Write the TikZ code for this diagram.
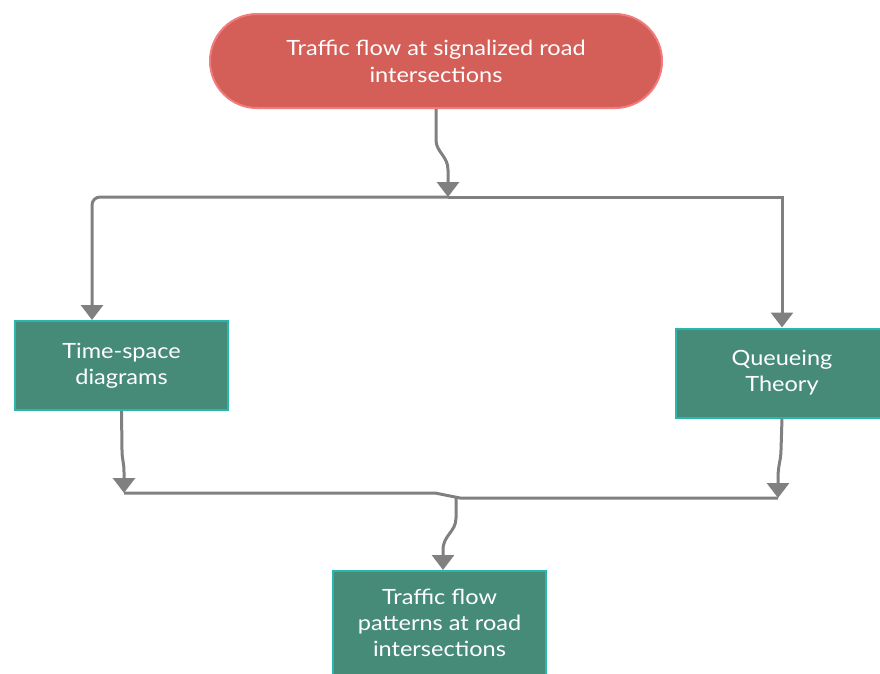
\documentclass[tikz,border=0pt]{standalone}
\usepackage{fontspec}
\setmainfont{Lato}[FakeStretch=1.12]
\usetikzlibrary{arrows.meta,calc}
\definecolor{redfill}{HTML}{D35F58}
\definecolor{redline}{HTML}{F27B7B}
\definecolor{greenfill}{HTML}{468B78}
\definecolor{greenline}{HTML}{2AB5AE}
\definecolor{conngray}{HTML}{808080}
\tikzset{
  startbox/.style={draw=redline, fill=redfill, line width=2pt, rounded corners=47pt,
    minimum width=452pt, minimum height=94pt, align=center, text=white,
    font=\fontsize{21}{27}\selectfont},
  procbox/.style={draw=greenline, fill=greenfill, line width=2pt,
    minimum width=213pt, minimum height=89pt, align=center, text=white,
    font=\fontsize{21}{26}\selectfont},
  conn/.style={draw=conngray, line width=3pt},
  tip/.style={-{Triangle[width=22pt,length=15pt]}}
}
\begin{document}
\begin{tikzpicture}[x=1pt,y=-1pt]
\useasboundingbox (0,0) rectangle (880,673);
\node[startbox] (top) at (436,61) {Traffic flow at signalized road\\intersections};
\node[procbox] (ts) at (121.5,365.5) {Time-space\\diagrams};
\node[procbox] (qt) at (782,373) {Queueing\\Theory};
\node[procbox, minimum height=104pt] (tf) at (439.5,623) {Traffic flow\\patterns at road\\intersections};
\coordinate (j1) at (448,197);
\coordinate (jr) at (782,197);
\coordinate (j2) at (456,497);
\coordinate (jl2) at (124,493);
\coordinate (jr2) at (778,498);
% top to split
\draw[conn, tip] (top.south) -- (436,140) .. controls (436,152) and (448,156) .. (448,170) -- (j1);
\draw[conn, tip, rounded corners=8pt] (j1) -| ([xshift=-29.5pt]ts.north);
\draw[conn, tip] (j1) -- (jr) -- (qt.north);
% boxes to merge
\draw[conn, tip] (ts.south) -- (122,450) .. controls (122,460) and (124,462) .. (124,472) -- (jl2);
\draw[conn, tip] (qt.south) -- (781,450) .. controls (781,460) and (778,465) .. (778,478) -- (jr2);
\draw[conn] (jl2) -- (435,493) -- (460,498) -- (jr2);
% merge to bottom
\draw[conn, tip] (j2) -- (456,518) .. controls (456,532) and (443,535) .. (443,550) -- ([xshift=3.5pt]tf.north);
\end{tikzpicture}
\end{document}
